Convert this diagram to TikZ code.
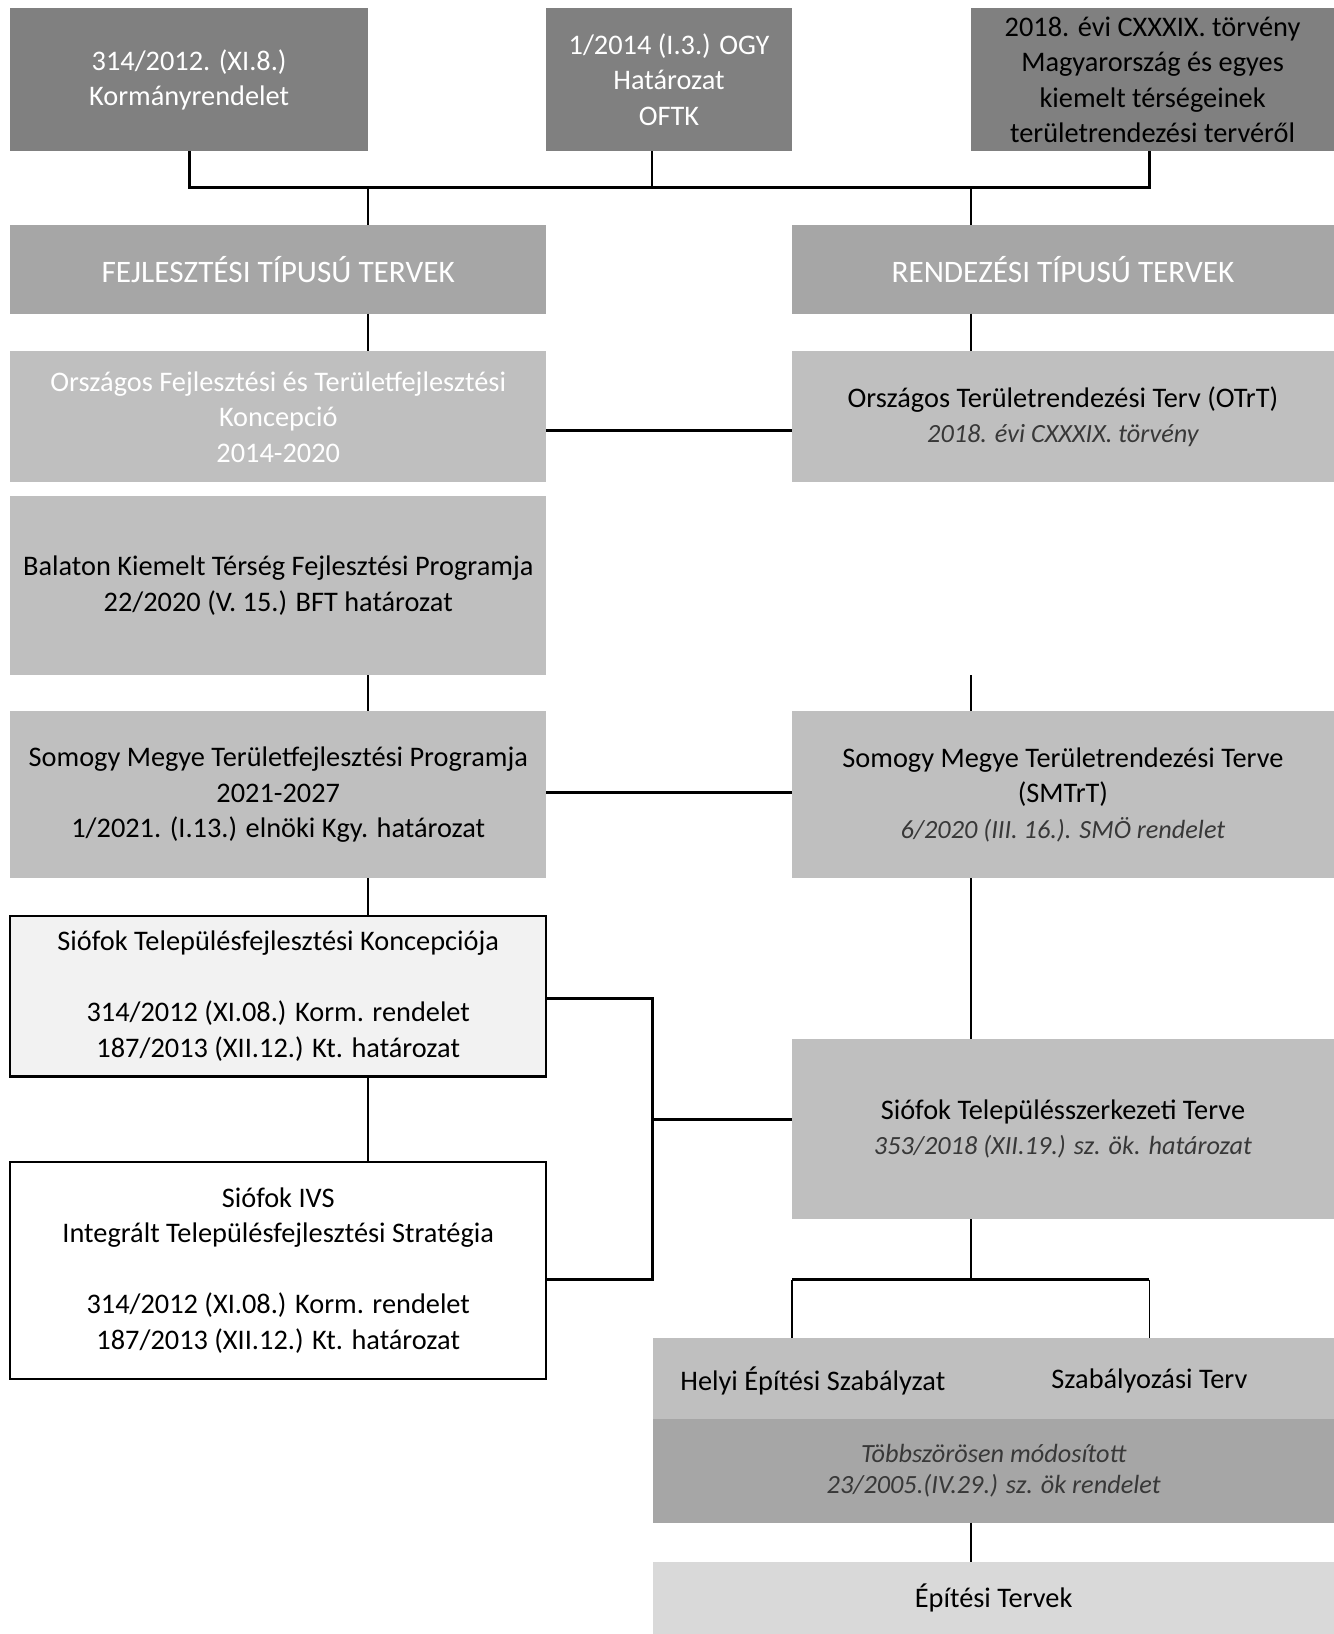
\documentclass[tikz,border=0pt]{standalone}
\usepackage{fontspec}
\setmainfont{Carlito}
\usepackage{xcolor}
\usetikzlibrary{calc}
\definecolor{darkbox}{HTML}{808080}
\definecolor{midbox}{HTML}{A6A6A6}
\definecolor{lightbox}{HTML}{BFBFBF}
\definecolor{palebox}{HTML}{D9D9D9}
\definecolor{whitebox}{HTML}{F2F2F2}
\definecolor{notegray}{HTML}{383838}
\newcommand{\lawnote}[1]{{\fontsize{12.6}{16}\selectfont\itshape\color{notegray}#1}}
\tikzset{
  plan/.style 2 args={anchor=north west,minimum width=#1*0.5pt,minimum height=#2*0.5pt,
                      inner sep=0pt,outer sep=0pt,align=center,
                      font=\fontsize{13.6}{17}\selectfont},
  source/.style={fill=darkbox},
  kind/.style={fill=midbox,text=white,font=\fontsize{15}{17}\selectfont},
  level/.style={fill=lightbox},
  framed/.style={draw=black,line width=1pt},
  link/.style={line width=0.9pt},
  bus/.style={line width=1.4pt}
}

\begin{document}
\begin{tikzpicture}[x=0.5pt,y=-0.5pt]
  \useasboundingbox (0,0) rectangle (1280,1568);

  % legal sources on top
  \node[plan={343}{137},source,text=white] (kr) at (10,8) {314/2012. (XI.8.)\\Kormányrendelet};
  \node[plan={236}{137},source,text=white] (ogy) at (524,8) {1/2014 (I.3.) OGY\\Határozat\\OFTK};
  \node[plan={348}{137},source] (tv) at (932,8) {2018. évi CXXXIX. törvény\\Magyarország és egyes\\kiemelt térségeinek\\területrendezési tervéről};

  % two kinds of plans
  \node[plan={514}{85},kind] (fejl) at (10,216) {FEJLESZTÉSI TÍPUSÚ TERVEK};
  \node[plan={520}{85},kind] (rend) at (760,216) {RENDEZÉSI TÍPUSÚ TERVEK};

  % national level
  \node[plan={514}{126},level,text=white] (oftk) at (10,337) {Országos Fejlesztési és Területfejlesztési\\Koncepció\\2014-2020};
  \node[plan={520}{126},level] (otrt) at (760,337) {Országos Területrendezési Terv (OTrT)\\\lawnote{2018. évi CXXXIX. törvény}};

  % regional / county level
  \node[plan={514}{172},level] (bkt) at (10,476) {Balaton Kiemelt Térség Fejlesztési Programja\\22/2020 (V. 15.) BFT határozat};
  \node[plan={514}{161},level] (smfp) at (10,682) {Somogy Megye Területfejlesztési Programja\\2021-2027\\1/2021. (I.13.) elnöki Kgy. határozat};
  \node[plan={520}{161},level] (smtrt) at (760,682) {Somogy Megye Területrendezési Terve\\(SMTrT)\\\lawnote{6/2020 (III. 16.). SMÖ rendelet}};

  % settlement level
  \node[plan={514}{154},framed,fill=whitebox] (tfk) at (10,879) {Siófok Településfejlesztési Koncepciója\\[17pt]314/2012 (XI.08.) Korm. rendelet\\187/2013 (XII.12.) Kt. határozat};
  \node[plan={514}{208},framed,fill=white] (ivs) at (10,1115) {Siófok IVS\\Integrált Településfejlesztési Stratégia\\[17pt]314/2012 (XI.08.) Korm. rendelet\\187/2013 (XII.12.) Kt. határozat};
  \node[plan={520}{173},level] (tszt) at (760,997) {Siófok Településszerkezeti Terve\\\lawnote{353/2018 (XII.19.) sz. ök. határozat}};

  % local regulation
  \node[plan={653}{78},level] (hesz) at (627,1284) {};
  \node[font=\fontsize{13.6}{17}\selectfont] (hesztxt) at (780,1325) {Helyi Építési Szabályzat};
  \node[font=\fontsize{13.6}{17}\selectfont] (sztxt) at (1103,1325) {Szabályozási Terv};
  \node[plan={653}{99},fill=midbox,font=\fontsize{12.6}{15}\selectfont\itshape,text=notegray] (modos) at (627,1362) {Többszörösen módosított\\23/2005.(IV.29.) sz. ök rendelet};
  \node[plan={653}{69},fill=palebox] (epit) at (627,1499) {Építési Tervek};

  % connectors
  \coordinate (bus) at (626,180);
  \coordinate (lcol) at (353,0);
  \coordinate (rcol) at (932,0);
  \coordinate (tvcol) at (1103,0);
  \draw[bus] (kr.south) |- (bus) -| (tv.south -| tvcol);
  \draw[link] (ogy.south -| bus) -- (bus);
  \draw[link] (bus -| lcol) -- (fejl.north -| lcol);
  \draw[link] (bus -| rcol) -- (rend.north -| rcol);

  \draw[link] (fejl.south -| lcol) -- (oftk.north -| lcol);
  \draw[link] (rend.south -| rcol) -- (otrt.north -| rcol);
  \draw[bus] ($(oftk.east)+(0,13)$) -- ($(otrt.west)+(0,13)$);

  \coordinate (stub) at (932,648);
  \draw[link] (bkt.south -| lcol) -- (smfp.north -| lcol);
  \draw[link] (stub) -- (smtrt.north -| stub);
  \draw[bus] ($(smfp.east)+(0,-2)$) -- ($(smtrt.west)+(0,-2)$);

  \draw[link] (smfp.south -| lcol) -- (tfk.north -| lcol);
  \draw[link] (smtrt.south -| rcol) -- (tszt.north -| rcol);
  \draw[link] (tfk.south -| lcol) -- (ivs.north -| lcol);

  % both settlement documents feed the structure plan
  \coordinate (fork) at (626,1074);
  \draw[bus] ($(tfk.east)+(0,2)$) -| (fork) |- ($(ivs.east)+(0,9)$);
  \draw[bus] (fork) -- (fork -| tszt.west);

  \coordinate (split) at (932,1228);
  \draw[link] (tszt.south -| split) -- (split);
  \draw[bus] (split -| tszt.west) -- (split -| tvcol);
  \draw[link] (split -| tszt.west) -- (hesz.north -| tszt.west);
  \draw[link] (split -| tvcol) -- (hesz.north -| tvcol);

  \draw[link] (modos.south -| rcol) -- (epit.north -| rcol);
\end{tikzpicture}
\end{document}
